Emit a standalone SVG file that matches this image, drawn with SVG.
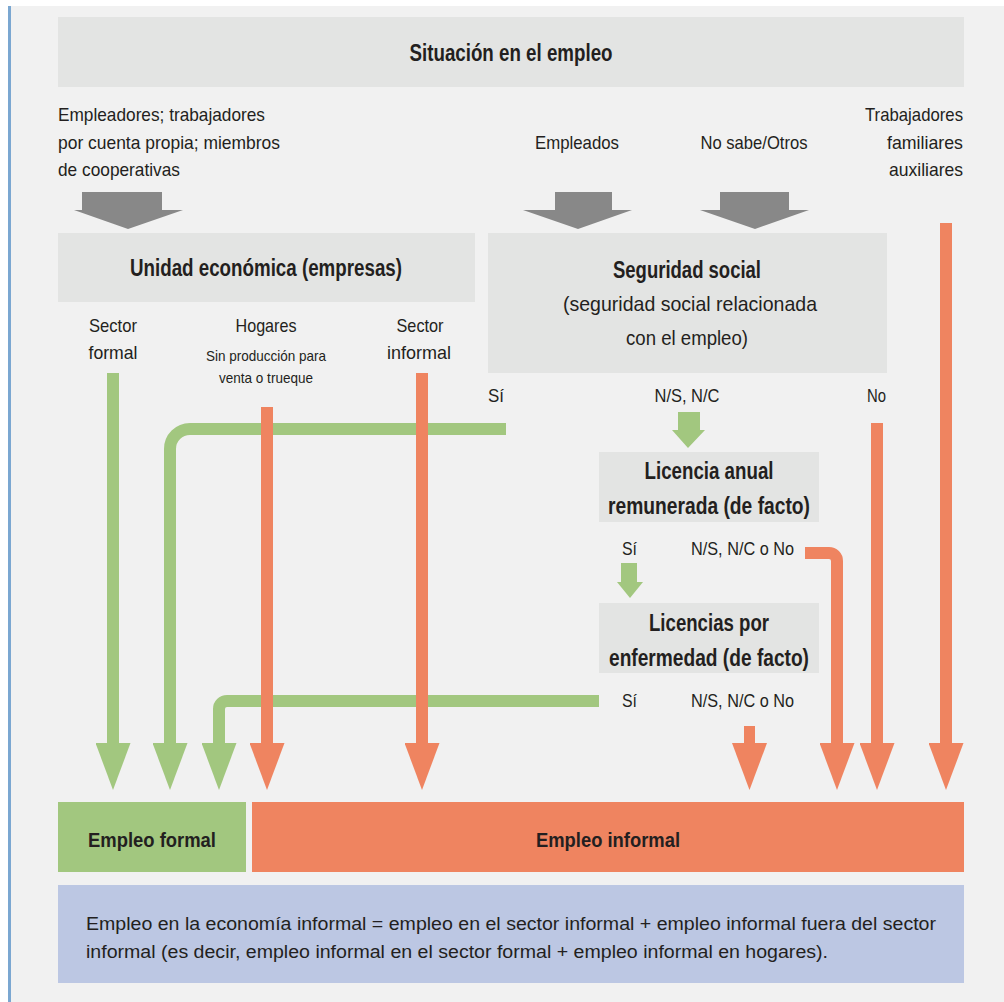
<svg xmlns="http://www.w3.org/2000/svg" width="1004" height="1002" viewBox="0 0 1004 1002">
<defs>
<style>
text{font-family:"Liberation Sans",Arial,sans-serif;fill:#231f20;}
.lbl{font-size:19px;}
.b{font-size:23.5px;font-weight:bold;}
.bb{font-size:21px;font-weight:bold;}
.sm{font-size:15px;}
.sub{font-size:21px;}
.note{font-size:17.5px;}
.box{fill:#e3e4e3;}
.g{stroke:#a2c77f;stroke-width:12;fill:none;}
.o{stroke:#ef8460;stroke-width:12;fill:none;}
.ga{fill:#888888;}
.gf{fill:#a2c77f;}
</style>
<marker id="mg" markerUnits="userSpaceOnUse" viewBox="0 0 47 35" refX="0" refY="17.5" markerWidth="47" markerHeight="35" orient="auto"><path d="M0,0 L47,17.5 L0,35 Z" fill="#a2c77f"/></marker>
<marker id="mo" markerUnits="userSpaceOnUse" viewBox="0 0 47 35" refX="0" refY="17.5" markerWidth="47" markerHeight="35" orient="auto"><path d="M0,0 L47,17.5 L0,35 Z" fill="#ef8460"/></marker>
</defs>
<rect x="0" y="0" width="1004" height="1002" fill="#ffffff"/>
<rect x="10" y="6" width="994" height="996" fill="#f1f1f1"/>
<rect x="8" y="6" width="3" height="996" fill="#7ba7d1"/>

<g id="situacion">
<rect class="box" x="58" y="17" width="906" height="70"/>
<text class="b" x="511" y="61" text-anchor="middle" textLength="203" lengthAdjust="spacingAndGlyphs">Situación en el empleo</text>
</g>

<g id="empleadores">
<text class="lbl" x="58" y="121" textLength="207" lengthAdjust="spacingAndGlyphs">Empleadores; trabajadores</text>
<text class="lbl" x="58" y="149" textLength="222" lengthAdjust="spacingAndGlyphs">por cuenta propia; miembros</text>
<text class="lbl" x="58" y="176" textLength="122" lengthAdjust="spacingAndGlyphs">de cooperativas</text>
</g>
<g id="empleados"><text class="lbl" x="577" y="149" text-anchor="middle" textLength="84" lengthAdjust="spacingAndGlyphs">Empleados</text></g>
<g id="nosabe"><text class="lbl" x="754" y="149" text-anchor="middle" textLength="107" lengthAdjust="spacingAndGlyphs">No sabe/Otros</text></g>
<g id="familiares">
<text class="lbl" x="963" y="121" text-anchor="end" textLength="98" lengthAdjust="spacingAndGlyphs">Trabajadores</text>
<text class="lbl" x="963" y="149" text-anchor="end" textLength="76" lengthAdjust="spacingAndGlyphs">familiares</text>
<text class="lbl" x="963" y="176" text-anchor="end" textLength="74" lengthAdjust="spacingAndGlyphs">auxiliares</text>
</g>

<g id="unidad">
<rect class="box" x="58" y="233" width="417" height="69"/>
<text class="b" x="266" y="276" text-anchor="middle" textLength="272" lengthAdjust="spacingAndGlyphs">Unidad económica (empresas)</text>
</g>
<g id="seguridad">
<rect class="box" x="488" y="233" width="399" height="140"/>
<text class="b" x="687" y="278" text-anchor="middle" textLength="148" lengthAdjust="spacingAndGlyphs">Seguridad social</text>
<text class="sub" x="690" y="311" text-anchor="middle" textLength="254" lengthAdjust="spacingAndGlyphs">(seguridad social relacionada</text>
<text class="sub" x="687" y="345" text-anchor="middle" textLength="122" lengthAdjust="spacingAndGlyphs">con el empleo)</text>
</g>
<g id="sectorformal">
<text class="lbl" x="113" y="332" text-anchor="middle" textLength="48" lengthAdjust="spacingAndGlyphs">Sector</text>
<text class="lbl" x="113" y="359" text-anchor="middle" textLength="49" lengthAdjust="spacingAndGlyphs">formal</text>
</g>
<g id="hogares">
<text class="lbl" x="266" y="332" text-anchor="middle" textLength="61" lengthAdjust="spacingAndGlyphs">Hogares</text>
<text class="sm" x="266" y="361" text-anchor="middle" textLength="120" lengthAdjust="spacingAndGlyphs">Sin producción para</text>
<text class="sm" x="266" y="383" text-anchor="middle" textLength="94" lengthAdjust="spacingAndGlyphs">venta o trueque</text>
</g>
<g id="sectorinformal">
<text class="lbl" x="420" y="332" text-anchor="middle" textLength="47" lengthAdjust="spacingAndGlyphs">Sector</text>
<text class="lbl" x="419" y="359" text-anchor="middle" textLength="64" lengthAdjust="spacingAndGlyphs">informal</text>
</g>
<g id="seg-labels">
<text class="lbl" x="488" y="402" textLength="16" lengthAdjust="spacingAndGlyphs">Sí</text>
<text class="lbl" x="687" y="402" text-anchor="middle" textLength="65" lengthAdjust="spacingAndGlyphs">N/S, N/C</text>
<text class="lbl" x="886" y="402" text-anchor="end" textLength="19" lengthAdjust="spacingAndGlyphs">No</text>
</g>

<g id="licanual">
<rect class="box" x="599" y="452" width="220" height="70"/>
<text class="b" x="709" y="479" text-anchor="middle" textLength="129" lengthAdjust="spacingAndGlyphs">Licencia anual</text>
<text class="b" x="709" y="514" text-anchor="middle" textLength="202" lengthAdjust="spacingAndGlyphs">remunerada (de facto)</text>
</g>
<g id="licanual-labels">
<text class="lbl" x="622" y="555" textLength="15" lengthAdjust="spacingAndGlyphs">Sí</text>
<text class="lbl" x="691" y="555" textLength="103" lengthAdjust="spacingAndGlyphs">N/S, N/C o No</text>
</g>
<g id="licenf">
<rect class="box" x="599" y="603" width="220" height="70"/>
<text class="b" x="709" y="631" text-anchor="middle" textLength="120" lengthAdjust="spacingAndGlyphs">Licencias por</text>
<text class="b" x="709" y="666" text-anchor="middle" textLength="200" lengthAdjust="spacingAndGlyphs">enfermedad (de facto)</text>
</g>
<g id="licenf-labels">
<text class="lbl" x="622" y="707" textLength="15" lengthAdjust="spacingAndGlyphs">Sí</text>
<text class="lbl" x="691" y="707" textLength="103" lengthAdjust="spacingAndGlyphs">N/S, N/C o No</text>
</g>

<g id="formal">
<rect x="58" y="802" width="188" height="70" fill="#a2c77f"/>
<text class="bb" x="152" y="847" text-anchor="middle" textLength="128" lengthAdjust="spacingAndGlyphs">Empleo formal</text>
</g>
<g id="informal">
<rect x="252" y="802" width="712" height="70" fill="#ef8460"/>
<text class="bb" x="608" y="847" text-anchor="middle" textLength="144" lengthAdjust="spacingAndGlyphs">Empleo informal</text>
</g>
<g id="nota">
<rect x="58" y="885" width="906" height="98" fill="#bcc7e3"/>
<text class="note" x="86" y="930" textLength="850" lengthAdjust="spacingAndGlyphs">Empleo en la economía informal = empleo en el sector informal + empleo informal fuera del sector</text>
<text class="note" x="86" y="958" textLength="742" lengthAdjust="spacingAndGlyphs">informal (es decir, empleo informal en el sector formal + empleo informal en hogares).</text>
</g>

<g id="connectors">
<polygon class="ga" points="82,192 162,192 162,210 183,210 128,229 74,210 82,210"/>
<polygon class="ga" points="555,192 612,192 612,210 632,210 578,229 523,210 555,210"/>
<polygon class="ga" points="720,192 789,192 789,210 809,210 755,229 700,210 720,210"/>
<polygon class="gf" points="678,412 700,412 700,430 705,430 688,448 672,430 678,430"/>
<polygon class="gf" points="621,563 637,563 637,582 643,582 630,598 617,582 621,582"/>
<path class="g" d="M113,373 V743" marker-end="url(#mg)"/>
<path class="g" d="M506,429 H190 A20,20 0 0 0 170,449 V743" marker-end="url(#mg)"/>
<path class="g" d="M599,701 H227 A8,8 0 0 0 219,709 V743" marker-end="url(#mg)"/>
<path class="o" d="M267,407 V743" marker-end="url(#mo)"/>
<path class="o" d="M422,373 V743" marker-end="url(#mo)"/>
<path class="o" d="M805,553 H829 A8,8 0 0 1 837,561 V743" marker-end="url(#mo)"/>
<path class="o" d="M877,423 V743" marker-end="url(#mo)"/>
<path class="o" d="M946,223 V743" marker-end="url(#mo)"/>
<path class="o" d="M749.5,726 V743" style="stroke-width:11" marker-end="url(#mo)"/>
</g>
</svg>
